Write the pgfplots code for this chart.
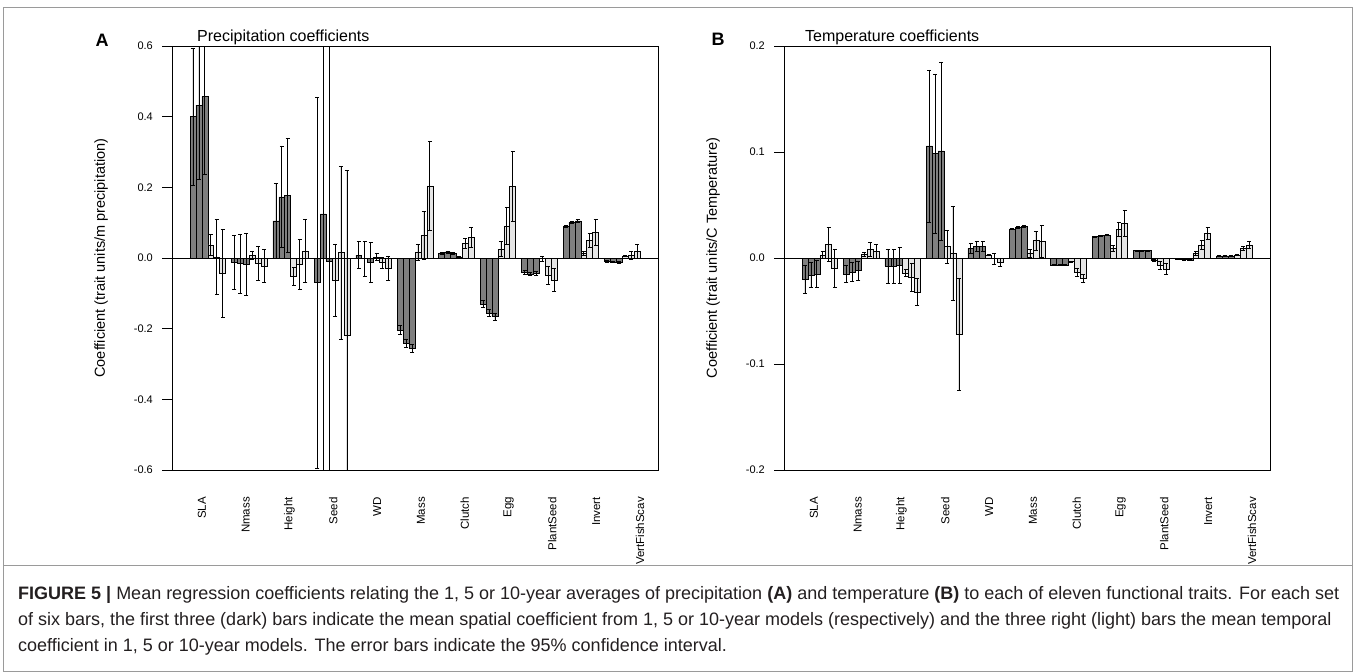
\documentclass[border=0pt]{standalone}
\usepackage{fontspec}
\setmainfont{Liberation Sans}
\usepackage{pgfplots}
\usepackage{pgfplotstable}
\pgfplotsset{compat=1.18}
\definecolor{darkbar}{HTML}{7F7F7F}
\definecolor{lightbar}{HTML}{E5E5E5}
\definecolor{framegray}{HTML}{9A9A9A}
\definecolor{captext}{HTML}{231F20}

% x = bar centre (R barplot units), y = mean coefficient, e = half width of 95% CI
\pgfplotstableread{
x y e
1.5 0.400 0.193
2.5 0.433 0.210
3.5 0.457 0.220
8.5 -0.012 0.077
9.5 -0.016 0.083
10.5 -0.018 0.087
15.5 0.105 0.105
16.5 0.173 0.144
17.5 0.177 0.161
22.5 -0.070 0.525
23.5 0.125 0.800
24.5 -0.010 0.750
29.5 0.008 0.038
30.5 -0.002 0.050
31.5 -0.013 0.056
36.5 -0.204 0.013
37.5 -0.241 0.012
38.5 -0.256 0.012
43.5 0.013 0.003
44.5 0.017 0.003
45.5 0.013 0.003
50.5 -0.130 0.010
51.5 -0.155 0.010
52.5 -0.166 0.010
57.5 -0.041 0.005
58.5 -0.045 0.005
59.5 -0.044 0.005
64.5 0.089 0.003
65.5 0.101 0.003
66.5 0.105 0.003
71.5 -0.009 0.002
72.5 -0.011 0.002
73.5 -0.012 0.002
}\precipDark

\pgfplotstableread{
x y e
4.5 0.037 0.030
5.5 0.003 0.107
6.5 -0.044 0.125
11.5 0.008 0.012
12.5 -0.015 0.047
13.5 -0.022 0.047
18.5 -0.052 0.025
19.5 -0.018 0.071
20.5 0.020 0.090
25.5 -0.062 0.102
26.5 0.015 0.245
27.5 -0.218 0.466
32.5 0.003 0.010
33.5 -0.013 0.015
34.5 -0.028 0.034
39.5 0.017 0.023
40.5 0.065 0.068
41.5 0.204 0.126
46.5 0.003 0.003
47.5 0.041 0.014
48.5 0.058 0.029
53.5 0.025 0.021
54.5 0.091 0.052
55.5 0.202 0.099
60.5 -0.002 0.007
61.5 -0.050 0.025
62.5 -0.062 0.033
67.5 0.013 0.006
68.5 0.049 0.020
69.5 0.073 0.037
74.5 0.006 0.002
75.5 0.008 0.011
76.5 0.018 0.020
}\precipLight

\pgfplotstableread{
x y e
1.5 -0.020 0.013
2.5 -0.016 0.012
3.5 -0.015 0.013
8.5 -0.015 0.008
9.5 -0.013 0.009
10.5 -0.012 0.009
15.5 -0.0075 0.016
16.5 -0.008 0.016
17.5 -0.0066 0.017
22.5 0.1057 0.0718
23.5 0.0987 0.075
24.5 0.101 0.084
29.5 0.0091 0.0047
30.5 0.0107 0.0047
31.5 0.0107 0.0047
36.5 0.0274 0.0007
37.5 0.0289 0.0007
38.5 0.0299 0.0007
43.5 -0.0066 0.0005
44.5 -0.0066 0.0005
45.5 -0.0066 0.0005
50.5 0.0201 0.0005
51.5 0.0210 0.0005
52.5 0.0217 0.0005
57.5 0.0069 0.0004
58.5 0.0070 0.0004
59.5 0.0069 0.0004
64.5 -0.0013 0.0003
65.5 -0.0015 0.0003
66.5 -0.0018 0.0003
71.5 0.0019 0.0003
72.5 0.0019 0.0003
73.5 0.0019 0.0003
}\tempDark

\pgfplotstableread{
x y e
4.5 0.003 0.003
5.5 0.013 0.016
6.5 -0.010 0.018
11.5 0.0035 0.0015
12.5 0.008 0.0065
13.5 0.0066 0.0066
18.5 -0.014 0.003
19.5 -0.018 0.013
20.5 -0.032 0.013
25.5 0.0107 0.0155
26.5 0.0044 0.044
27.5 -0.072 0.053
32.5 0.0028 0.0007
33.5 -0.0007 0.005
34.5 -0.0039 0.004
39.5 0.0044 0.0038
40.5 0.0164 0.009
41.5 0.0154 0.015
46.5 -0.0035 0.0005
47.5 -0.0135 0.0037
48.5 -0.0192 0.0035
53.5 0.0091 0.0027
54.5 0.0271 0.007
55.5 0.0327 0.012
60.5 -0.0025 0.001
61.5 -0.0072 0.0036
62.5 -0.0104 0.005
67.5 0.0044 0.0018
68.5 0.0123 0.004
69.5 0.0233 0.0055
74.5 0.0028 0.0005
75.5 0.0091 0.002
76.5 0.0123 0.003
}\tempLight

\pgfplotsset{
  coefpanel/.style={
    anchor=south west, scale only axis,
    width=486pt, height=424pt,
    xmin=-2.04, xmax=80.04,
    axis line style={line width=0.8pt},
    xtick={3,10.4,17.8,25.2,32.6,40,47.4,54.8,62.2,69.6,77},
    xticklabels={SLA,Nmass,Height,Seed,WD,Mass,Clutch,Egg,PlantSeed,Invert,VertFishScav},
    xtick style={draw=none},
    xticklabel style={rotate=90,anchor=east,inner sep=0pt,font=\fontsize{11.5}{13}\selectfont},
    xticklabel shift=17pt,
    ytick pos=left, tick align=outside, major tick length=10pt,
    ytick style={line width=0.8pt,black},
    yticklabel style={inner sep=0pt,xshift=-9pt,font=\fontsize{11}{13}\selectfont},
    bar width=1,
  },
  darkbars/.style={ybar,bar shift=0pt,fill=darkbar,draw=black,line width=0.5pt,
    error bars/.cd,y dir=both,y explicit,
    error bar style={line width=0.7pt,black},
    error mark options={rotate=90,mark size=2pt,line width=0.7pt,black}},
  lightbars/.style={ybar,bar shift=0pt,fill=lightbar,draw=black,line width=0.5pt,
    error bars/.cd,y dir=both,y explicit,
    error bar style={line width=0.7pt,black},
    error mark options={rotate=90,mark size=2pt,line width=0.7pt,black}},
}

\begin{document}
\begin{tikzpicture}
\path[use as bounding box] (0pt,0pt) rectangle (1358pt,-672pt);

\begin{axis}[coefpanel, at={(172pt,-470pt)},
    ymin=-0.6, ymax=0.6,
    ytick={-0.6,-0.4,-0.2,0,0.2,0.4,0.6},
    yticklabels={-0.6,-0.4,-0.2,0.0,0.2,0.4,0.6}]
  \addplot[darkbars] table[x=x,y=y,y error=e]{\precipDark};
  \addplot[lightbars] table[x=x,y=y,y error=e]{\precipLight};
  \addplot[black,line width=0.7pt,sharp plot] coordinates {(-2.04,0) (80.04,0)};
\end{axis}

\begin{axis}[coefpanel, at={(784pt,-470pt)},
    ymin=-0.2, ymax=0.2,
    ytick={-0.2,-0.1,0,0.1,0.2},
    yticklabels={-0.2,-0.1,0.0,0.1,0.2}]
  \addplot[darkbars] table[x=x,y=y,y error=e]{\tempDark};
  \addplot[lightbars] table[x=x,y=y,y error=e]{\tempLight};
  \addplot[black,line width=0.7pt,sharp plot] coordinates {(-2.04,0) (80.04,0)};
\end{axis}

\begin{scope}[x=1pt,y=-1pt]
  \draw[framegray,line width=0.8pt] (3,7) rectangle (1352,671);
  \draw[framegray,line width=0.8pt] (3,565) -- (1352,565);
  \node[font=\fontsize{18}{20}\selectfont\bfseries] at (102,40) {A};
  \node[font=\fontsize{18}{20}\selectfont\bfseries] at (718,39) {B};
  \node[anchor=base west,inner sep=0pt,font=\fontsize{16}{18}\selectfont] at (197,41) {Precipitation coefficients};
  \node[anchor=base west,inner sep=0pt,font=\fontsize{16}{18}\selectfont] at (805,41) {Temperature coefficients};
  \node[rotate=90,font=\fontsize{14.5}{16}\selectfont] at (101,258) {Coefficient (trait units/m precipitation)};
  \node[rotate=90,font=\fontsize{14.5}{16}\selectfont] at (713,258) {Coefficient (trait units/C Temperature)};
  \begin{scope}[every node/.style={anchor=base west,inner sep=0pt,text=captext,font=\fontsize{18}{20}\selectfont}]
    \node at (18,599) {\textbf{FIGURE 5 |} Mean regression coefficients relating the 1, 5 or 10-year averages of precipitation \textbf{(A)} and temperature \textbf{(B)} to each of eleven functional traits. For each set};
    \node at (18,625) {of six bars, the first three (dark) bars indicate the mean spatial coefficient from 1, 5 or 10-year models (respectively) and the three right (light) bars the mean temporal};
    \node at (18,651) {coefficient in 1, 5 or 10-year models. The error bars indicate the 95\% confidence interval.};
  \end{scope}
\end{scope}
\end{tikzpicture}
\end{document}
